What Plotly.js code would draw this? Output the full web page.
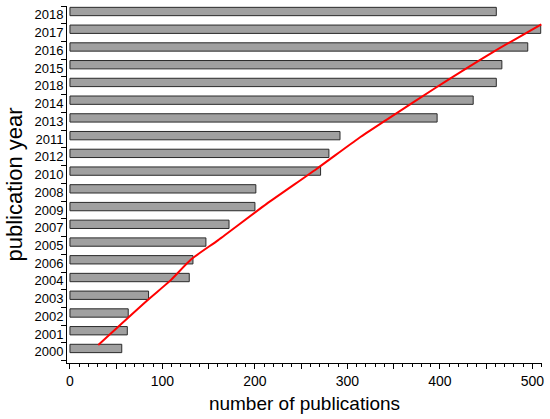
<!DOCTYPE html>
<html>
<head>
<meta charset="utf-8">
<script src="https://cdn.plot.ly/plotly-3.0.1.min.js"></script>
<style>html,body{margin:0;padding:0;background:#fff;}#chart{width:550px;height:419px;}</style>
</head>
<body>
<div id="chart"></div>
<script>
// Row labels, bottom to top (as printed in the figure, including the repeated 2018)
var yearLabels = ["2000","2001","2002","2003","2004","2006","2005","2007","2009","2008",
                  "2010","2012","2011","2013","2014","2018","2015","2016","2017","2018"];
// Number of publications for each row, bottom to top
var pubCounts = [56, 62, 63, 85, 129, 133, 147, 172, 200, 201,
                 271, 280, 292, 397, 436, 461, 467, 495, 509, 461];
// Red trend curve (x = publications, y = row position)
var trendX = [30.6, 82.9, 108.1, 131.5, 160.3, 212.6, 266.6, 312.6, 342.2, 396.3, 457.4, 509.7];
var trendY = [0.39, 2.87, 4.0, 5.23, 6.30, 8.34, 10.31, 12.06, 13.08, 14.92, 16.9, 18.47];
// X axis ticks
var xTickVals = [0, 50, 100, 150, 200, 250, 300, 350, 400, 450, 500];
var xTickText = ["0", "", "100", "", "200", "", "300", "", "400", "", "500"];

var rowPos = yearLabels.map(function(_, i){ return i; });
var font = "Arial, 'Liberation Sans', sans-serif";

var bars = {
  type: "bar",
  orientation: "h",
  x: pubCounts,
  y: rowPos,
  width: 0.47,
  offset: -0.045,
  marker: {color: "#a0a0a0", line: {color: "#2a2a2a", width: 1}},
  hoverinfo: "skip",
  showlegend: false
};
var trend = {
  type: "scatter",
  mode: "lines",
  x: trendX,
  y: trendY,
  line: {color: "#ff0000", width: 2, shape: "spline", smoothing: 0.6},
  showlegend: false
};

var layout = {
  width: 550,
  height: 419,
  margin: {l: 67, r: 8, t: 6, b: 56},
  paper_bgcolor: "#ffffff",
  plot_bgcolor: "#ffffff",
  showlegend: false,
  font: {family: font, color: "#000"},
  xaxis: {
    range: [-3.2, 510.4],
    tickmode: "array",
    tickvals: xTickVals,
    ticktext: xTickText,
    ticks: "outside",
    ticklen: 5,
    tickwidth: 1,
    tickcolor: "#000",
    minor: {ticks: "outside", dtick: 10, tick0: 0, ticklen: 3, tickwidth: 1, tickcolor: "#000"},
    showline: true,
    linecolor: "#000",
    linewidth: 1,
    showgrid: false,
    zeroline: false,
    tickfont: {family: font, size: 14, color: "#000"},
    title: {text: "number of publications", font: {family: font, size: 19, color: "#000"}, standoff: 8}
  },
  yaxis: {
    range: [-0.63, 19.5],
    tickmode: "array",
    tickvals: rowPos,
    ticktext: yearLabels,
    ticks: "",
    ticklen: 0,
    minor: {ticks: "outside", tickmode: "linear", tick0: -0.5, dtick: 1, ticklen: 5, tickwidth: 1, tickcolor: "#000"},
    showline: true,
    linecolor: "#000",
    linewidth: 1,
    showgrid: false,
    zeroline: false,
    tickfont: {family: font, size: 13, color: "#000"},
    title: {text: "publication year", font: {family: font, size: 22, color: "#000"}, standoff: 5}
  }
};

Plotly.newPlot("chart", [bars, trend], layout, {displayModeBar: false, staticPlot: true});
</script>
</body>
</html>
